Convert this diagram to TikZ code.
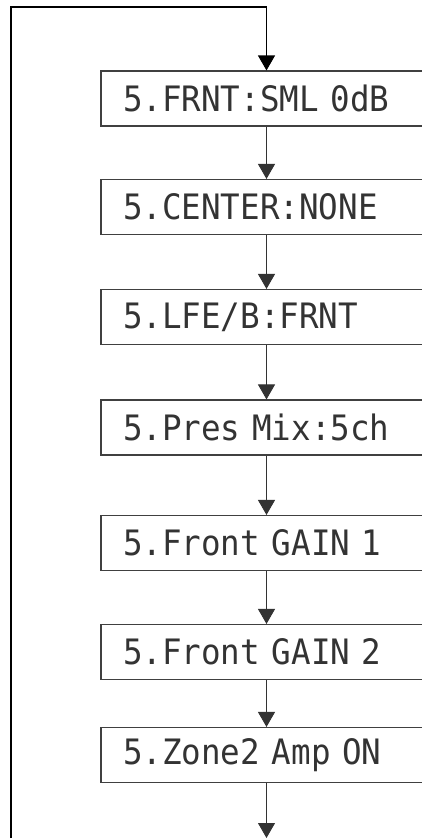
\documentclass[tikz,border=0pt]{standalone}
\usepackage{fontspec}
\newfontfamily\lcdfont[FakeStretch=0.93, WordSpace={1,0,0}]{DejaVu Sans Mono}
\usetikzlibrary{arrows.meta}
\tikzset{
  lcdBox/.style={draw=black!75, line width=1.1pt, minimum width=331pt, minimum height=55pt, text width=287pt, align=left, inner xsep=22pt, inner ysep=0pt, font=\lcdfont\fontsize{35}{35}\selectfont, text=black!80},
  lcdArrow/.style={-{Triangle[length=15pt, width=17pt]}, line width=0.9pt, draw=black!80},
  lcdReturn/.style={line width=1.1pt}
}
\begin{document}
\begin{tikzpicture}[x=1pt, y=-1pt]
      \useasboundingbox (0,0) rectangle (422,839);
      \node[lcdBox] (frnt) at (266.5,98.5) {5.FRNT:SML 0dB};
      \node[lcdBox] (center) at (266.5,207) {5.CENTER:NONE};
      \node[lcdBox] (lfe) at (266.5,317) {5.LFE/B:FRNT};
      \node[lcdBox] (presmix) at (266.5,427.5) {5.Pres Mix:5ch};
      \node[lcdBox] (gainone) at (266.5,543) {5.Front GAIN 1};
      \node[lcdBox] (gaintwo) at (266.5,652) {5.Front GAIN 2};
      \node[lcdBox] (zoneamp) at (266.5,755) {5.Zone2 Amp ON};
      \coordinate (bottomEnd) at (266.5,838);
      \coordinate (loopBottom) at (11,838);
      \coordinate (loopLeft) at (11,7);
      \coordinate (loopTop) at (266.5,7);

      \draw[lcdArrow] (frnt) -- (center);
      \draw[lcdArrow] (center) -- (lfe);
      \draw[lcdArrow] (lfe) -- (presmix);
      \draw[lcdArrow] (presmix) -- (gainone);
      \draw[lcdArrow] (gainone) -- (gaintwo);
      \draw[lcdArrow] (gaintwo) -- (zoneamp);
      \draw[lcdArrow] (zoneamp) -- (bottomEnd);
      \draw[lcdReturn] (loopBottom) -- (loopLeft) -- (loopTop);
      \draw[lcdArrow, draw=black, line width=1.1pt] (loopTop) -- (frnt);
\end{tikzpicture}
\end{document}
